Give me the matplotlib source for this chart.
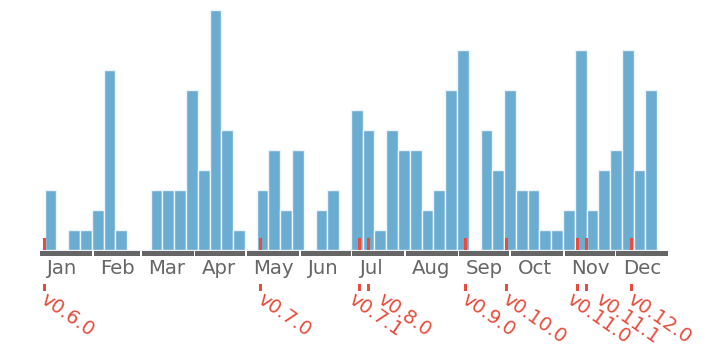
import matplotlib
matplotlib.use("Agg")
import matplotlib.pyplot as plt
import numpy as np

# weekly activity counts (52 equal bins between first and last day)
counts = [3, 0, 1, 1, 2, 9, 1, 0, 0, 3, 3, 3, 8, 4, 12, 6, 1, 0,
          3, 5, 2, 5, 0, 2, 3, 0, 7, 6, 1, 6, 5, 5, 2, 3, 8, 10,
          0, 6, 4, 8, 3, 3, 1, 1, 2, 10, 2, 4, 5, 10, 4, 8]
range_start = 2.7   # day of year
range_end = 357.6

months = ["Jan", "Feb", "Mar", "Apr", "May", "Jun",
          "Jul", "Aug", "Sep", "Oct", "Nov", "Dec"]
month_days = [31, 28, 31, 30, 31, 30, 31, 31, 30, 31, 30, 31]

releases = ["v0.6.0", "v0.7.0", "v0.7.1", "v0.8.0", "v0.9.0",
            "v0.10.0", "v0.11.0", "v0.11.1", "v0.12.0"]
release_days = [2.5, 128, 185, 190.3, 246.5, 270.4, 311.5, 316.6, 342.6]

blue = "#6aadd1"
red = "#e74c3c"
gray = "#666666"

fig = plt.figure(figsize=(7.2, 3.6), dpi=100)
ax = fig.add_axes([0, 0, 1, 1])
ax.set_xlim(-23.2, 394.0)
ax.set_ylim(-5.525, 12.475)
ax.axis("off")

edges = np.linspace(range_start, range_end, len(counts) + 1)
ax.bar(edges[:-1], counts, width=np.diff(edges), align="edge",
       color=blue, edgecolor="#eef4fa", linewidth=1.0, zorder=2)

starts = np.concatenate([[0], np.cumsum(month_days)[:-1]])
for m, s, d in zip(months, starts, month_days):
    ax.bar(s, -0.235, width=d - 1, bottom=-0.09, align="edge",
           color=gray, linewidth=0, zorder=2)
    ax.text(s + 3.6, -0.45, m, ha="left", va="top",
            fontsize=14.2, color=gray)

# spread label anchors of releases that are close together
min_gap = 16.8  # days
rd = np.array(release_days, dtype=float)
label_x = rd.copy()
i = 0
while i < len(rd):
    j = i
    while j + 1 < len(rd) and rd[j + 1] - rd[j] < min_gap:
        j += 1
    if j > i:
        c = rd[i:j + 1].mean() + 1.7
        n = j - i + 1
        label_x[i:j + 1] = c + (np.arange(n) - (n - 1) / 2) * min_gap
    i = j + 1

for r, d, lx in zip(releases, release_days, label_x):
    ax.bar(d, 0.57, width=1.75, bottom=0, align="center",
           color=red, linewidth=0, zorder=3)
    ax.bar(d, -0.35, width=1.75, bottom=-1.725, align="center",
           color=red, linewidth=0, zorder=3)
    ax.text(lx + 2.1, -2.0, r, ha="left", va="top", rotation=-35,
            rotation_mode="anchor", fontsize=14, color=red)

fig.savefig("out.png", dpi=100)
